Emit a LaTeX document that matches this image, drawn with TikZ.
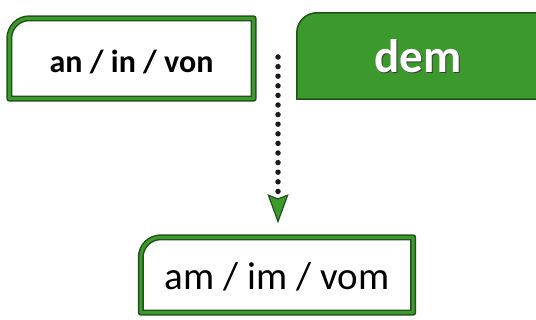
\documentclass[tikz,border=0pt]{standalone}
\usepackage{fontspec}
\setmainfont{Carlito}
\usetikzlibrary{arrows.meta}
\definecolor{leaf}{HTML}{3C9A2C}
\definecolor{rim}{HTML}{1E5218}
\definecolor{ink}{HTML}{1A1A1A}
\pgfdeclarelayer{back}
\pgfsetlayers{back,main}
% tab outline: only the top-left corner is rounded
\newcommand\tabpath[1]{(#1.south west) -- ([yshift=-20pt]#1.north west)
  arc[start angle=180,end angle=90,radius=20pt] -- (#1.north east)
  -- (#1.south east) -- cycle}
\begin{document}
\begin{tikzpicture}[x=1pt,y=-1pt,
  tab/.style={inner sep=0pt, anchor=center},
  frame/.style={draw=rim, line width=6pt, line join=round},
  framecore/.style={draw=leaf, line width=3pt, line join=round},
  dots/.style={draw=ink, line width=5.5pt, line cap=round, dash pattern=on 0pt off 9.6pt},
]
\useasboundingbox (0,0) rectangle (536,320);

\node[tab, minimum width=244pt, minimum height=80pt, text height=29pt, text depth=0pt,
  font=\fontsize{32}{32}\selectfont\bfseries] (a) at (131.5,58.5) {an / in / von};
\node[tab, minimum width=248pt, minimum height=86pt] (b) at (421,56) {};
\node[text=ink!85, font=\fontsize{47}{47}\selectfont\bfseries] (demshade) at (419.3,57.3) {dem};
\node[text=white, font=\fontsize{47}{47}\selectfont\bfseries] (dem) at (418,56) {dem};
\node[tab, minimum width=272pt, minimum height=75pt, text height=30pt, text depth=0pt,
  font=\fontsize{39}{39}\selectfont] (c) at (277,275) {am / im / vom};

\begin{pgfonlayer}{back}
  \draw[frame] \tabpath{a};
  \draw[framecore] \tabpath{a};
  \fill[leaf] \tabpath{b};
  \draw[rim, line width=1.5pt] \tabpath{b};
  \draw[frame] \tabpath{c};
  \draw[framecore] \tabpath{c};
\end{pgfonlayer}

\coordinate (split) at (278,57);
\draw[dots, shorten >=14pt,
  -{Stealth[length=29pt, width=21pt, inset=4pt, fill=leaf, color=rim, line width=1.2pt]}]
  (split) -- (split |- c.north);
\end{tikzpicture}
\end{document}
